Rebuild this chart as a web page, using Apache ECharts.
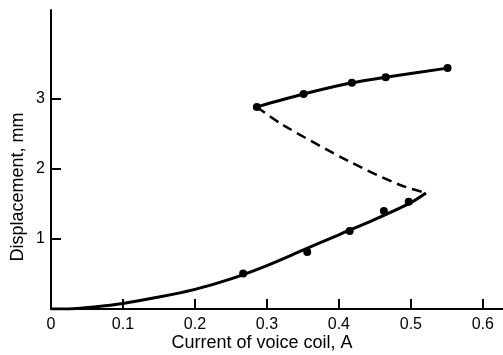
<!DOCTYPE html>
<html>
<head>
<meta charset="utf-8">
<script src="https://cdn.jsdelivr.net/npm/echarts@6/dist/echarts.min.js"></script>
<style>html,body{margin:0;padding:0;background:#fff}#c{width:503px;height:355px}</style>
</head>
<body>
<div id="c"></div>
<script>
// Data
var xTickLabels = [0, 0.1, 0.2, 0.3, 0.4, 0.5, 0.6];
var xTicks = [0.1, 0.2, 0.3, 0.4, 0.5, 0.6];
var yTicks = [1, 2, 3];
// lower (stable) branch, solid curve
var lowerCurve = [[0,0],[0.03,0.005],[0.06,0.03],[0.1,0.08],[0.15,0.17],[0.2,0.28],[0.25,0.43],[0.3,0.62],[0.35,0.84],[0.4,1.06],[0.45,1.28],[0.5,1.52],[0.521,1.657]];
var lowerPoints = [[0.267,0.507],[0.356,0.814],[0.415,1.114],[0.4625,1.40],[0.497,1.53]];
// upper branch
var upperPoints = [[0.286,2.886],[0.351,3.07],[0.418,3.23],[0.465,3.31],[0.551,3.44]];
// unstable (dashed) branch
var dashedCurve = [[0.286,2.886],[0.322,2.63],[0.415,2.104],[0.485,1.771],[0.521,1.657]];

var font = 'Liberation Sans';
var chart = echarts.init(document.getElementById('c'), null, {renderer:'canvas'});
chart.setOption({
  animation: false,
  backgroundColor: '#fff',
  grid: {left: 51, right: 0, top: 10, bottom: 46, containLabel: false},
  xAxis: {
    type: 'value', min: 0, max: 0.628,
    axisLine: {show: true, lineStyle: {color: '#000', width: 2}},
    axisTick: {show: true, inside: true, length: 10, customValues: xTicks, lineStyle: {color: '#000', width: 2}},
    axisLabel: {customValues: xTickLabels, color: '#000', fontFamily: font, fontSize: 16, margin: 8,
      formatter: function(v){ return v === 0 ? '0' : v.toFixed(1); }},
    splitLine: {show: false}
  },
  yAxis: {
    type: 'value', min: 0, max: 4.27,
    axisLine: {show: true, lineStyle: {color: '#000', width: 2}},
    axisTick: {show: true, inside: true, length: 10, customValues: yTicks, lineStyle: {color: '#000', width: 2}},
    axisLabel: {customValues: yTicks, color: '#000', fontFamily: font, fontSize: 16, margin: 6},
    splitLine: {show: false}
  },
  graphic: [
    {type: 'text', x: 262, y: 343, style: {text: 'Current of voice coil, A', fill: '#000', font: '18px "Liberation Sans"', textAlign: 'center', textVerticalAlign: 'middle', x: 0, y: 0}},
    {type: 'text', x: 18, y: 187, rotation: Math.PI/2, style: {text: 'Displacement, mm', fill: '#000', font: '18px "Liberation Sans"', textAlign: 'center', textVerticalAlign: 'middle', x: 0, y: 0}}
  ],
  series: [
    {type: 'line', data: lowerCurve, smooth: 0.3, showSymbol: false, lineStyle: {color: '#000', width: 3}},
    {type: 'scatter', data: lowerPoints, symbolSize: 8, itemStyle: {color: '#000', opacity: 1}},
    {type: 'line', data: upperPoints, smooth: 0.3, showSymbol: true, symbol: 'circle', symbolSize: 8, itemStyle: {color: '#000', opacity: 1}, lineStyle: {color: '#000', width: 3}},
    {type: 'line', data: dashedCurve, smooth: 0.3, showSymbol: false, lineStyle: {color: '#000', width: 2.5, type: [10, 6]}}
  ]
});
</script>
</body>
</html>
